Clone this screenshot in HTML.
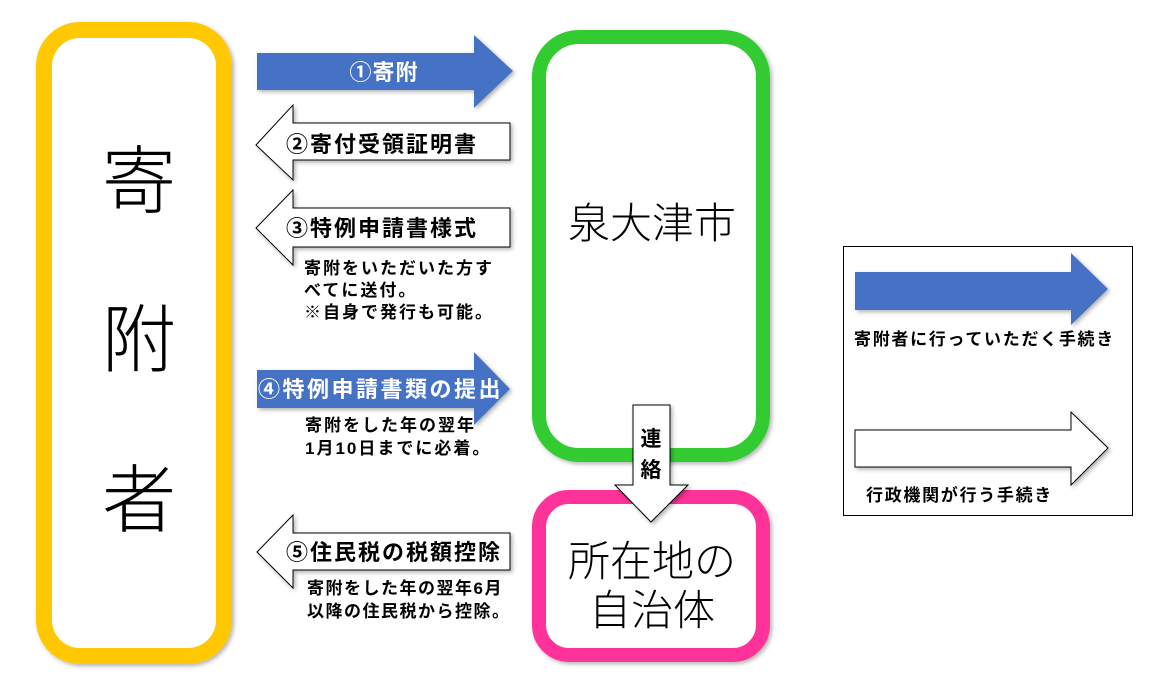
<!DOCTYPE html>
<html><head><meta charset="utf-8"><style>
html,body{margin:0;padding:0;background:#fff;}
svg{display:block;font-family:"Liberation Sans","Noto Sans CJK JP",sans-serif;}
</style></head><body>
<svg width="1166" height="699" viewBox="0 0 1166 699" xmlns="http://www.w3.org/2000/svg">
<defs>
<filter id="sh" x="-10%" y="-10%" width="130%" height="130%"><feDropShadow dx="2" dy="2" stdDeviation="2" flood-color="#000" flood-opacity="0.3"/></filter>
</defs>
<rect x="44" y="30" width="180" height="626" rx="36" fill="#fff" stroke="#FFC800" stroke-width="16" filter="url(#sh)"/>
<rect x="539" y="37" width="224" height="418" rx="40" fill="#fff" stroke="#33CC33" stroke-width="14" filter="url(#sh)"/>
<rect x="539" y="497" width="224" height="158" rx="30" fill="#fff" stroke="#FF3399" stroke-width="14" filter="url(#sh)"/>
<g font-size="74" font-weight="300" fill="#000" text-anchor="middle">
<text x="139" y="207">寄</text>
<text x="139" y="366">附</text>
<text x="139" y="526">者</text>
</g>
<g font-size="42" font-weight="300" text-anchor="middle">
<text x="652" y="238">泉大津市</text>
<text x="652" y="576">所在地の</text>
<text x="652" y="625">自治体</text>
</g>
<g filter="url(#sh)">
<polygon points="257,53 474,53 474,35 513,71 474,108 474,90 257,90" fill="#4472C4"/>
<polygon points="256,145 293,105 293,123 510,123 510,160 293,160 293,180" fill="#fff" stroke="#000" stroke-width="1"/>
<polygon points="256,228 293,190 293,208 510,208 510,247 293,247 293,265" fill="#fff" stroke="#000" stroke-width="1"/>
<polygon points="257,370 474,370 474,352 510,389 474,425 474,408 257,408" fill="#4472C4"/>
<polygon points="257,552 293,515 293,533 510,533 510,570 293,570 293,588" fill="#fff" stroke="#000" stroke-width="1"/>
<polygon points="633,405 670,405 670,485 688,485 651,522 615,485 633,485" fill="#fff" stroke="#000" stroke-width="1"/>
</g>
<g font-size="22" font-weight="bold">
<text x="384" y="80" fill="#fff" text-anchor="middle" letter-spacing="1">①寄附</text>
<text x="286" y="152" fill="#000" letter-spacing="2">②寄付受領証明書</text>
<text x="286" y="236" fill="#000" letter-spacing="2">③特例申請書様式</text>
<text x="258" y="397" fill="#fff" letter-spacing="2.5">④特例申請書類の提出</text>
<text x="286" y="560" fill="#000" letter-spacing="2">⑤住民税の税額控除</text>
<text x="651" y="446" fill="#000" text-anchor="middle" font-size="21">連</text>
<text x="651" y="477" fill="#000" text-anchor="middle" font-size="21">絡</text>
</g>
<g font-size="17" font-weight="bold" fill="#000" letter-spacing="2">
<text x="304" y="274">寄附をいただいた方す</text>
<text x="304" y="296">べてに送付。</text>
<text x="304" y="318">※自身で発行も可能。</text>
<text x="305" y="431">寄附をした年の翌年</text>
<text x="305" y="454">1月10日までに必着。</text>
<text x="307" y="594" letter-spacing="1.5">寄附をした年の翌年6月</text>
<text x="307" y="617" letter-spacing="1.5">以降の住民税から控除。</text>
</g>
<rect x="843.5" y="246.5" width="289" height="269" fill="#fff" stroke="#000" stroke-width="1"/>
<g filter="url(#sh)">
<polygon points="855,272 1071,272 1071,253 1108,289 1071,325 1071,310 855,310" fill="#4472C4"/>
<polygon points="855,430 1071,430 1071,412 1108,448 1071,485 1071,467 855,467" fill="#fff" stroke="#000" stroke-width="1"/>
</g>
<text x="854" y="345" font-size="17" font-weight="bold" letter-spacing="1.7">寄附者に行っていただく手続き</text>
<text x="866" y="501" font-size="17" font-weight="bold" letter-spacing="1.7">行政機関が行う手続き</text>
</svg>
</body></html>
